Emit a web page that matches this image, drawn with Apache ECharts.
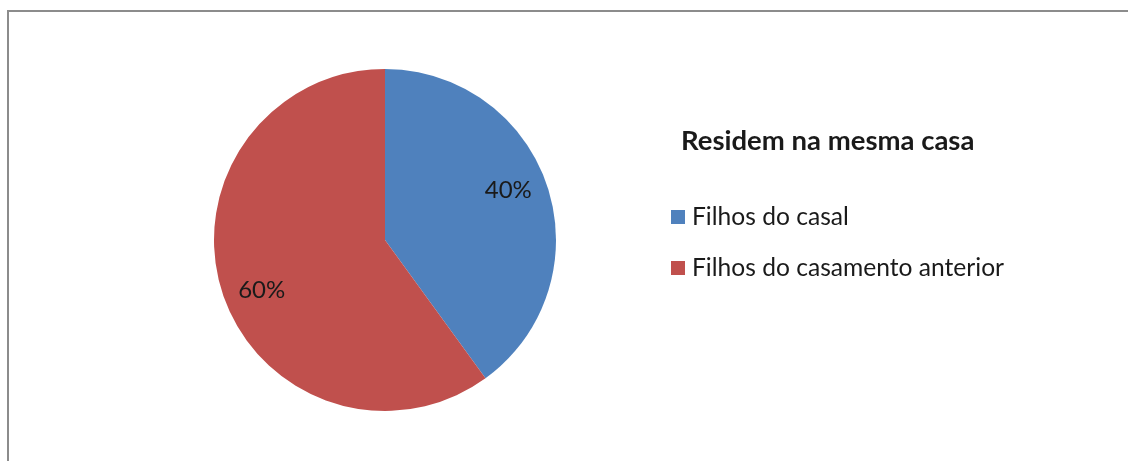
<!DOCTYPE html>
<html>
<head>
<meta charset="utf-8">
<script src="https://cdn.jsdelivr.net/npm/echarts@6/dist/echarts.min.js"></script>
<style>
  html, body { margin: 0; padding: 0; background: #fff; }
  #chart { width: 1128px; height: 461px; }
</style>
</head>
<body>
<div id="chart"></div>
<script>
// Residence of children: share by origin
const chartTitle = 'Residem na mesma casa';
const categories = ['Filhos do casal', 'Filhos do casamento anterior'];
const values = [40, 60];
const colors = ['#4F81BD', '#C0504D'];

const pieData = categories.map((name, i) => ({ name, value: values[i] }));
const FONT = 'Lato, "Liberation Sans", sans-serif';

const chart = echarts.init(document.getElementById('chart'), null, { renderer: 'canvas' });
chart.setOption({
  animation: false,
  color: colors,
  title: {
    text: chartTitle,
    left: 676,
    top: 122,
    textStyle: { fontFamily: FONT, fontSize: 27.5, fontWeight: 'bold', color: '#1a1a1a' }
  },
  legend: {
    orient: 'vertical',
    left: 666,
    top: 199,
    icon: 'rect',
    itemWidth: 14,
    itemHeight: 14,
    itemGap: 25,
    data: categories,
    textStyle: { fontFamily: FONT, fontSize: 24.6, color: '#1a1a1a', lineHeight: 26, padding: [0, 0, 0, 2] }
  },
  graphic: [{
    type: 'rect',
    shape: { x: 8, y: 11, width: 1300, height: 600 },
    style: { fill: 'none', stroke: '#8c8c8c', lineWidth: 2 },
    silent: true,
    z: -1
  }],
  series: [
    {
      type: 'pie',
      center: [385, 240],
      radius: [0, 171],
      startAngle: 90,
      clockwise: true,
      data: pieData,
      label: { show: false },
      labelLine: { show: false },
      itemStyle: { borderWidth: 0 },
      emphasis: { disabled: true }
    },
    {
      // transparent ring carrying the percentage labels
      type: 'pie',
      center: [385, 240],
      radius: [89, 171],
      startAngle: 94,
      clockwise: true,
      data: pieData,
      silent: true,
      itemStyle: { color: 'rgba(0,0,0,0)', borderWidth: 0 },
      label: {
        show: true,
        position: 'inside',
        formatter: p => p.value + '%',
        fontFamily: FONT,
        fontSize: 24,
        color: '#1a1a1a'
      },
      labelLine: { show: false },
      emphasis: { disabled: true }
    }
  ]
});
</script>
</body>
</html>
